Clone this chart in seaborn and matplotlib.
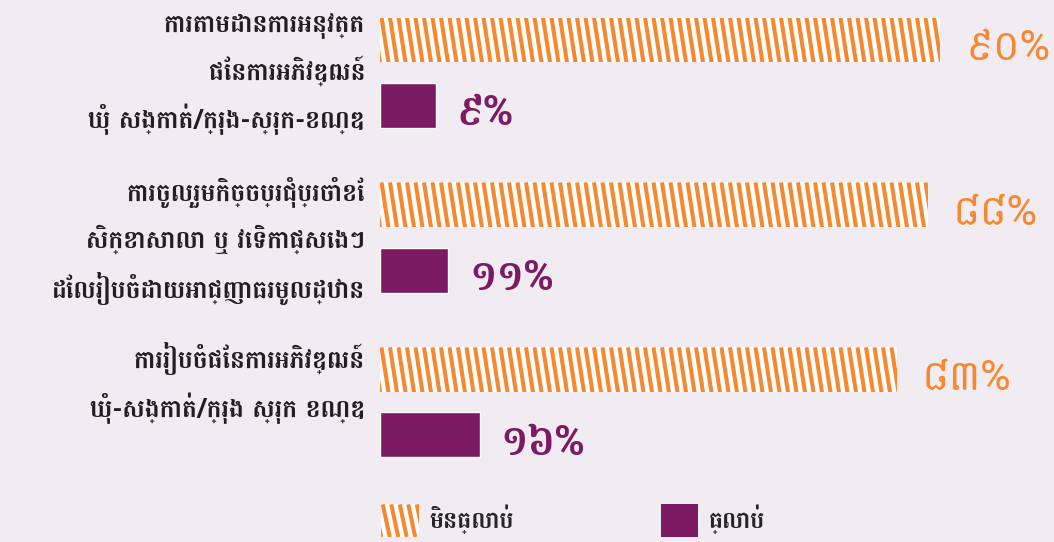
import numpy as np
import pandas as pd
import seaborn as sns
import matplotlib
matplotlib.use("Agg")
from matplotlib import pyplot as plt
from matplotlib import font_manager
from matplotlib.collections import LineCollection
from matplotlib.transforms import IdentityTransform
from matplotlib.patches import Patch

# chart data
activities = [
    "ការតាមដានការអនុវត្ត\nផែនការអភិវឌ្ឍន៍\nឃុំ សង្កាត់/ក្រុង-ស្រុក-ខណ្ឌ",
    "ការចូលរួមកិច្ចប្រជុំប្រចាំខែ\nសិក្ខាសាលា ឬ វេទិកាផ្សេងៗ\nដែលរៀបចំដោយអាជ្ញាធរមូលដ្ឋាន",
    "ការរៀបចំផែនការអភិវឌ្ឍន៍\nឃុំ-សង្កាត់/ក្រុង ស្រុក ខណ្ឌ",
]
series = ["មិនធ្លាប់", "ធ្លាប់"]
never_pct = [90, 88, 83]
ever_pct = [9, 11, 16]

BG = "#F1EBF2"
ORANGE = "#F7882F"
PURPLE = "#7C1A64"
TEXT = "#231F20"


def khmer_digits(n):
    return str(n).translate(str.maketrans("0123456789", "០១២៣៤៥៦៧៨៩")) + "%"


def add_stripes(fig, box, step=8.5, slant=7, lw=2.9):
    # steep "\" stripes in pixel space, clipped to the given box
    xs = np.arange(box.x0 - slant - step, box.x1 + step, step)
    segs = [[(x, box.y1), (x + slant, box.y0)] for x in xs]
    lc = LineCollection(segs, colors=ORANGE, linewidths=lw,
                        transform=IdentityTransform(), zorder=10)
    lc.set_clip_box(box)
    fig.add_artist(lc)


sns.set_theme(style="white")
installed = {f.name for f in font_manager.fontManager.ttflist}
fams = [f for f in ["Battambang", "Hanuman", "Khmer"] if f in installed]
plt.rcParams["font.family"] = fams[:1] + ["DejaVu Sans"]

df = pd.DataFrame({
    "activity": activities * 2,
    "series": [series[0]] * 3 + [series[1]] * 3,
    "pct": never_pct + ever_pct,
})

fig = plt.figure(figsize=(10.54, 5.42), dpi=100, facecolor=BG)
ax = fig.add_axes([380 / 1054, 1 - 470 / 542, 1 - 380 / 1054, 470 / 542])
ax.set_facecolor(BG)

sns.barplot(data=df, x="pct", y="activity", hue="series", hue_order=series,
            palette=[ORANGE, PURPLE], saturation=1, orient="h", width=0.79,
            gap=0.31, legend=False, ax=ax)

for bar in ax.containers[0]:
    bar.set_facecolor("white")
    bar.set_linewidth(0)

vals = ax.bar_label(ax.containers[0], labels=[khmer_digits(v) for v in never_pct],
                    padding=18, fontsize=30, color=ORANGE)
vals += ax.bar_label(ax.containers[1], labels=[khmer_digits(v) for v in ever_pct],
                     padding=15, fontsize=30, color=PURPLE, fontweight="bold")
# the numbers sit a little below the bar centre in the original
for ann in vals:
    ann.xyann = (ann.xyann[0], -6)

ax.set_xlim(0, 108.3)
ax.set_ylim(2.41, -0.44)
ax.set_xlabel("")
ax.set_ylabel("")
ax.set_xticks([])
ax.set_yticks([])
sns.despine(ax=ax, left=True, bottom=True)

# category labels, top-aligned with the hatched bar of each group
trans = ax.get_yaxis_transform()
labels = []
for bar, name in zip(ax.containers[0], activities):
    t = ax.text(-15 / 674, bar.get_y() - 0.03, name, transform=trans,
                ha="right", va="top", multialignment="right", fontsize=18,
                fontweight="bold", color=TEXT, linespacing=1.7)
    labels.append(t)

handles = [
    Patch(facecolor="white", linewidth=0),
    Patch(facecolor=PURPLE, linewidth=0),
]
leg = fig.legend(handles, series, loc="lower left", bbox_to_anchor=(360 / 1054, -0.03),
                 ncol=2, frameon=False, prop={"size": 17, "weight": "bold"},
                 handlelength=1.6, handleheight=1.75, handletextpad=0.45,
                 columnspacing=6.2)

# shrink the category labels if they run off the left edge
fig.canvas.draw()
r = fig.canvas.get_renderer()
widest = max(t.get_window_extent(r).width for t in labels)
if widest > 356:
    for t in labels:
        t.set_fontsize(18 * 356 / widest)
fig.canvas.draw()

for bar in ax.containers[0]:
    add_stripes(fig, bar.get_window_extent(r))
add_stripes(fig, leg.legend_handles[0].get_window_extent(r))

fig.savefig("out.png", dpi=100, facecolor=BG)
